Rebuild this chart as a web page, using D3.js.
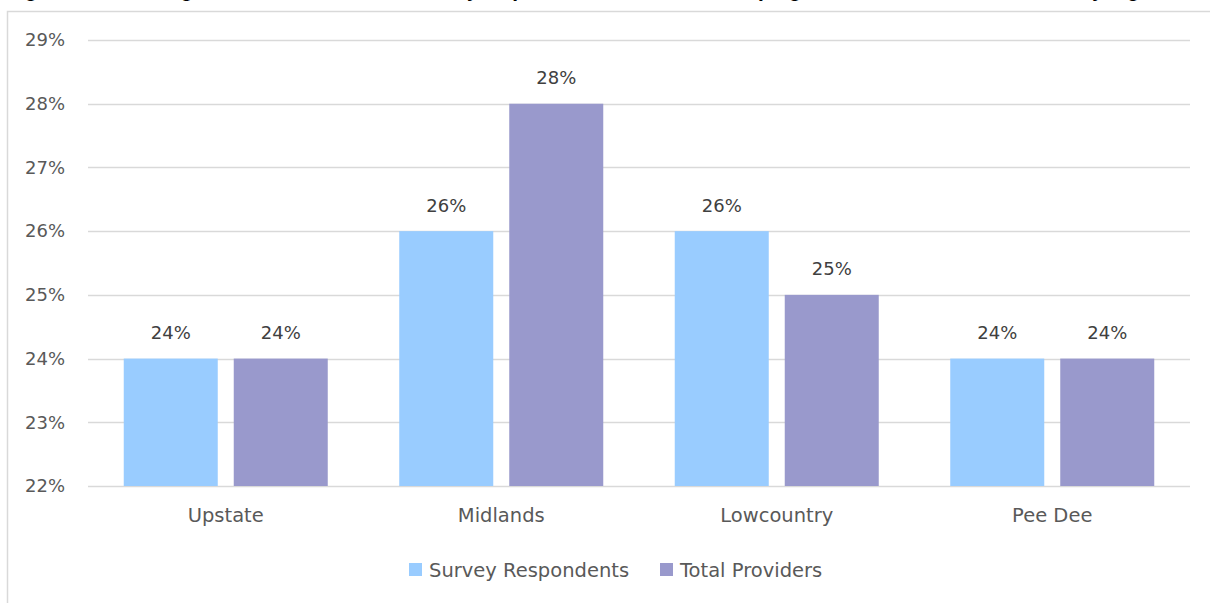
<!DOCTYPE html>
<html><head><meta charset="utf-8">
<script src="https://cdn.jsdelivr.net/npm/d3@7"></script>
<style>
html,body{margin:0;padding:0;background:#fff;overflow:hidden;}
svg{display:block;}
text{font-family:"DejaVu Sans",sans-serif;}
</style></head>
<body>
<svg id="c" width="1210" height="603"></svg>
<script>
const categories = ["Upstate", "Midlands", "Lowcountry", "Pee Dee"];
const seriesNames = ["Survey Respondents", "Total Providers"];
const surveyRespondents = [24, 26, 26, 24];
const totalProviders = [24, 28, 25, 24];
const yTicks = [22, 23, 24, 25, 26, 27, 28, 29];
const colors = ["#99CCFF", "#9999CC"];
const titleText = "Figure 7. Percentage of licensed child care survey respondents and all licensed programs in all of South Carolina, by region";

const svg = d3.select("#c");
const textColor = "#595959";
const fs = 18;
const fsWords = 19.5;

// cut-off title (only descenders visible)
svg.append("text").attr("x", 10).attr("y", -3)
  .attr("font-style", "italic").attr("font-weight", "bold")
  .attr("font-size", 22).attr("fill", "#000")
  .attr("textLength", 1160).attr("lengthAdjust", "spacingAndGlyphs")
  .text(titleText);

// chart border
svg.append("rect").attr("x", 7.5).attr("y", 11.5).attr("width", 1220).attr("height", 620)
  .attr("fill", "#fff").attr("stroke", "#D9D9D9").attr("stroke-width", 1.5);

const x0 = d3.scaleBand().domain(categories).range([88, 1190]).paddingInner(0).paddingOuter(0);
const y = d3.scaleLinear().domain([22, 29]).range([486, 40]);
const x1 = d3.scaleBand().domain(seriesNames).range([35.75, 239.75]).paddingInner(16/110);

// gridlines
svg.append("g").selectAll("line").data(yTicks).join("line")
  .attr("x1", 88).attr("x2", 1190)
  .attr("y1", d => Math.round(y(d)) + 0.5).attr("y2", d => Math.round(y(d)) + 0.5)
  .attr("stroke", "#D9D9D9").attr("stroke-width", 1.5);

// y axis labels
const yAxis = d3.axisLeft(y).tickValues(yTicks).tickFormat(d => d + "%").tickSize(0).tickPadding(0);
const gy = svg.append("g").attr("transform", "translate(65,0)").call(yAxis);
gy.select(".domain").remove();
gy.selectAll("text").attr("font-size", fs).attr("fill", textColor).attr("font-family", "'DejaVu Sans', sans-serif");

// x axis labels
const xAxis = d3.axisBottom(x0).tickSize(0).tickPadding(0);
const gx = svg.append("g").attr("transform", "translate(0,508)").call(xAxis);
gx.select(".domain").remove();
gx.selectAll("text").attr("font-size", fsWords).attr("fill", textColor).attr("font-family", "'DejaVu Sans', sans-serif");

const data = categories.map((c, i) => ({cat: c, vals: [surveyRespondents[i], totalProviders[i]]}));

const groups = svg.append("g").selectAll("g").data(data).join("g")
  .attr("transform", d => `translate(${x0(d.cat)},0)`);

groups.selectAll("rect").data(d => d.vals.map((v, j) => ({s: seriesNames[j], v, j}))).join("rect")
  .attr("x", d => x1(d.s)).attr("width", x1.bandwidth())
  .attr("y", d => y(d.v)).attr("height", d => y(22) - y(d.v))
  .attr("fill", d => colors[d.j]);

groups.selectAll("text.lbl").data(d => d.vals.map((v, j) => ({s: seriesNames[j], v, j}))).join("text")
  .attr("class", "lbl")
  .attr("x", d => x1(d.s) + x1.bandwidth() / 2).attr("y", d => y(d.v) - 19.5)
  .attr("text-anchor", "middle").attr("font-size", fs).attr("fill", "#404040")
  .text(d => d.v + "%");

// legend
const legendX = [409, 660];
const lg = svg.append("g").selectAll("g").data(seriesNames).join("g")
  .attr("transform", (d, i) => `translate(${legendX[i]},563)`);
lg.append("rect").attr("width", 13).attr("height", 13).attr("fill", (d, i) => colors[i]);
lg.append("text").attr("x", 20).attr("y", 13.5).attr("font-size", fsWords).attr("fill", textColor).text(d => d);
</script>
</body></html>
